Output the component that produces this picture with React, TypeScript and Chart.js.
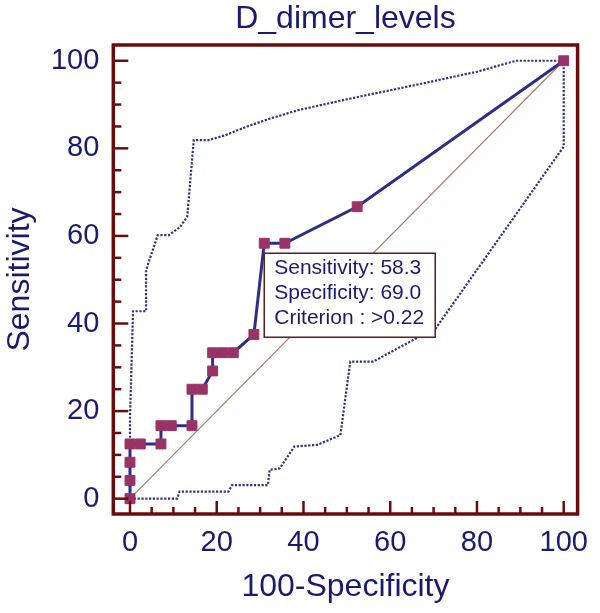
import React, { useEffect, useRef } from 'react';
import { Chart, registerables } from 'chart.js';

Chart.register(...registerables);

const chartTitle = 'D_dimer_levels';
const xAxisTitle = '100-Specificity';
const yAxisTitle = 'Sensitivity';
const tickValues = [0, 20, 40, 60, 80, 100];

// ROC curve (100-Specificity, Sensitivity)
const rocX = [0, 0, 0, 0, 2.38, 7.14, 7.14, 9.52, 14.29, 14.29, 16.67, 19.05, 19.05, 21.43, 23.81, 28.57, 30.95, 35.71, 52.38, 100];
const rocY = [0, 4.17, 8.33, 12.5, 12.5, 12.5, 16.67, 16.67, 16.67, 25, 25, 29.17, 33.33, 33.33, 33.33, 37.5, 58.33, 58.33, 66.67, 100];

// Upper confidence bound
const upperX = [0, 0, 0.7, 3.7, 3.7, 6.4, 9.0, 11.5, 13.2, 14.7, 18.2, 22, 27, 32, 38.7, 50, 65, 80, 89, 100];
const upperY = [0, 18.7, 42.8, 42.8, 52.2, 60.2, 60.2, 62, 64.4, 81.9, 81.9, 83, 85, 86.7, 88.7, 91.2, 94.3, 97.5, 100, 100];

// Lower confidence bound
const lowerX = [0, 10.9, 11.4, 22.7, 23.5, 31.8, 32.2, 34.5, 37.9, 43.2, 48.5, 50.8, 56.1, 62, 67.5, 70.5, 100, 100];
const lowerY = [0, 0, 1.6, 1.6, 3.1, 3.1, 6.6, 6.9, 11.9, 12.3, 14.5, 31.3, 31.3, 34.5, 37.4, 38.9, 80.4, 100];

// Reference diagonal
const diagX = [0, 100];
const diagY = [0, 100];

// Criterion point and its label
const criterionX = 30.95;
const criterionY = 58.33;
const criterionLines = ['Sensitivity: 58.3', 'Specificity: 69.0', 'Criterion : >0.22'];

const FONT = "'Liberation Sans', Arial, Helvetica, sans-serif";
const NAVY = '#1b1b6e';
const LINE_NAVY = '#2e2e86';
const DOT_NAVY = '#30307f';
const FRAME = '#6b0c0c';
const MARKER = '#993366';

const toPts = (xs: number[], ys: number[]) => xs.map((x, i) => ({ x, y: ys[i] }));

export default function App() {
  const ref = useRef<HTMLCanvasElement>(null);

  useEffect(() => {
    document.body.style.margin = '0';
    const canvas = ref.current!;

    const decorPlugin = {
      id: 'decor',
      afterDatasetsDraw(chart: any) {
        const { ctx, chartArea: a } = chart;
        const xs = chart.scales.x;
        const ys = chart.scales.y;
        ctx.save();
        // ticks inside the frame
        ctx.strokeStyle = FRAME;
        ctx.lineWidth = 2.5;
        for (let v = 0; v <= 100; v += 5) {
          const major = v % 20 === 0;
          const py = ys.getPixelForValue(v);
          ctx.beginPath();
          ctx.moveTo(a.left, py);
          ctx.lineTo(a.left + (major ? 15 : 8), py);
          ctx.stroke();
          const px = xs.getPixelForValue(v);
          ctx.beginPath();
          ctx.moveTo(px, a.bottom);
          ctx.lineTo(px, a.bottom - (major ? 13 : 7));
          ctx.stroke();
        }
        // frame
        ctx.lineWidth = 3.5;
        ctx.strokeRect(a.left, a.top, a.right - a.left, a.bottom - a.top);

        // criterion box
        const bx = xs.getPixelForValue(criterionX);
        const by = ys.getPixelForValue(criterionY) + 10;
        const bw = 171;
        const bh = 84;
        ctx.fillStyle = '#ffffff';
        ctx.fillRect(bx, by, bw, bh);
        ctx.strokeStyle = '#5a1e1e';
        ctx.lineWidth = 1.5;
        ctx.strokeRect(bx, by, bw, bh);
        ctx.fillStyle = NAVY;
        ctx.font = `21px ${FONT}`;
        ctx.textAlign = 'left';
        ctx.textBaseline = 'middle';
        criterionLines.forEach((t, i) => {
          ctx.fillText(t, bx + 10, by + 15 + i * 24.8);
        });

        // title
        ctx.font = `32px ${FONT}`;
        ctx.textAlign = 'center';
        ctx.fillText(chartTitle, (a.left + a.right) / 2, 19);
        ctx.restore();
      },
    };

    const chart = new Chart(canvas, {
      type: 'scatter',
      data: {
        datasets: [
          {
            data: toPts(rocX, rocY),
            showLine: true,
            borderColor: LINE_NAVY,
            borderWidth: 3,
            pointStyle: 'rect',
            pointRadius: 7,
            pointBackgroundColor: MARKER,
            pointBorderColor: MARKER,
            pointBorderWidth: 1,
          },
          {
            data: toPts(upperX, upperY),
            showLine: true,
            borderColor: DOT_NAVY,
            borderWidth: 2.2,
            borderDash: [2.2, 1.6],
            pointRadius: 0,
          },
          {
            data: toPts(lowerX, lowerY),
            showLine: true,
            borderColor: DOT_NAVY,
            borderWidth: 2.2,
            borderDash: [2.2, 1.6],
            pointRadius: 0,
          },
          {
            data: toPts(diagX, diagY),
            showLine: true,
            borderColor: '#b07a70',
            borderWidth: 1.2,
            pointRadius: 0,
          },
        ],
      },
      options: {
        animation: false,
        responsive: false,
        devicePixelRatio: 1,
        layout: { padding: { left: 0, right: 16.7, top: 45, bottom: 0 } },
        plugins: {
          legend: { display: false },
          tooltip: { enabled: false },
          title: { display: false },
        },
        scales: {
          x: {
            type: 'linear',
            min: -3.85,
            max: 103.2,
            afterBuildTicks: (s: any) => {
              s.ticks = tickValues.map((v) => ({ value: v }));
            },
            afterFit: (s: any) => {
              s.height = 99;
            },
            grid: { display: false, drawTicks: false },
            border: { display: false },
            ticks: {
              padding: 11.6,
              color: NAVY,
              font: { size: 29, family: FONT },
              maxRotation: 0,
              callback: (v: any) => String(v),
            },
            title: {
              display: true,
              text: xAxisTitle,
              color: NAVY,
              font: { size: 32, family: FONT },
              padding: { top: 0, bottom: 6.8 },
            },
          },
          y: {
            type: 'linear',
            min: -3.5,
            max: 103.6,
            afterBuildTicks: (s: any) => {
              s.ticks = tickValues.map((v) => ({ value: v }));
            },
            afterFit: (s: any) => {
              s.width = 113.3;
            },
            grid: { display: false, drawTicks: false },
            border: { display: false },
            ticks: {
              padding: 14,
              color: NAVY,
              font: { size: 29, family: FONT },
              callback: (v: any) => String(v),
            },
            title: {
              display: true,
              text: yAxisTitle,
              color: NAVY,
              font: { size: 32, family: FONT },
              padding: { top: 1, bottom: 0 },
            },
          },
        },
      },
      plugins: [decorPlugin],
    });

    return () => chart.destroy();
  }, []);

  return (
    <canvas
      ref={ref}
      width={600}
      height={613}
      style={{ display: 'block', width: 600, height: 613 }}
    />
  );
}
